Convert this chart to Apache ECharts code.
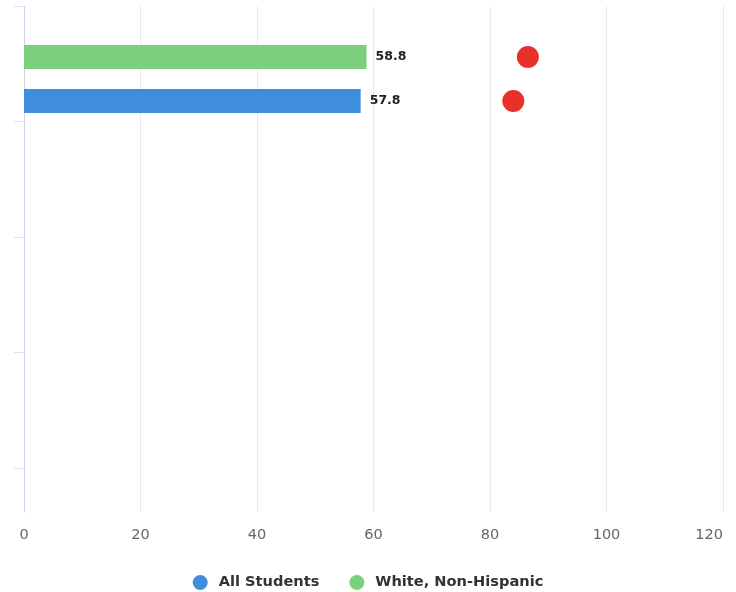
<!DOCTYPE html>
<html>
<head>
<meta charset="utf-8">
<script src="https://cdn.jsdelivr.net/npm/echarts@6/dist/echarts.min.js"></script>
<style>html,body{margin:0;padding:0;background:#fff}#c{width:736px;height:592px}</style>
</head>
<body>
<div id="c"></div>
<script>
var categories = ['Students'];
var seriesNames = ['All Students', 'White, Non-Hispanic'];
var allStudents = [57.8];
var whiteNonHispanic = [58.8];
var allStudentsTarget = [84.0];
var whiteTarget = [86.5];
var xTicks = [0, 20, 40, 60, 80, 100, 120];

var chart = echarts.init(document.getElementById('c'), null, {renderer: 'canvas'});
var font = 'DejaVu Sans';
var labelStyle = {show: true, position: 'right', distance: 9, fontFamily: font, fontWeight: 'bold', fontSize: 12.5, color: '#222'};
var option = {
  animation: false,
  backgroundColor: '#ffffff',
  legend: {
    data: seriesNames,
    top: 570,
    left: 'center',
    icon: 'circle',
    itemWidth: 15,
    itemHeight: 15,
    itemGap: 30,
    textStyle: {fontFamily: font, fontWeight: 'bold', fontSize: 14.6, color: '#333', padding: [0, 0, 0, 6]}
  },
  grid: [
    {left: 24, right: 13, top: 6, bottom: 80},
    {left: 24, right: 13, top: 6, height: 146}
  ],
  xAxis: [
    {type: 'value', gridIndex: 0, min: xTicks[0], max: xTicks[xTicks.length - 1], interval: 20,
     axisLine: {show: false}, axisTick: {show: false},
     splitLine: {lineStyle: {color: '#e9e9ee', width: 1}},
     axisLabel: {color: '#666', fontFamily: font, fontSize: 14.5, margin: 16, alignMaxLabel: 'right'}},
    {type: 'value', gridIndex: 1, min: xTicks[0], max: xTicks[xTicks.length - 1], show: false}
  ],
  yAxis: [
    {type: 'value', gridIndex: 0, min: 0, max: 4.38, interval: 1, inverse: true,
     axisLine: {show: true, lineStyle: {color: '#ccd6eb'}},
     axisTick: {show: true, length: 10, customValues: [0, 1, 2, 3, 4], lineStyle: {color: '#dde4f0'}},
     axisLabel: {show: false}, splitLine: {show: false}},
    {type: 'category', gridIndex: 1, data: categories, show: false}
  ],
  series: [
    {name: seriesNames[1], type: 'bar', xAxisIndex: 1, yAxisIndex: 1, data: whiteNonHispanic,
     barWidth: 24, barGap: '83%', itemStyle: {color: '#7ccf7c'}, label: labelStyle},
    {name: seriesNames[0], type: 'bar', xAxisIndex: 1, yAxisIndex: 1, data: allStudents,
     barWidth: 24, barGap: '83%', itemStyle: {color: '#3f8ede'}, label: labelStyle},
    {name: 'White target', type: 'pictorialBar', xAxisIndex: 1, yAxisIndex: 1, data: whiteTarget,
     barWidth: 24, barGap: '83%', symbol: 'circle', symbolSize: [22, 22], symbolPosition: 'end',
     symbolOffset: ['50%', 0], itemStyle: {color: '#e8312b'}, z: 5},
    {name: 'All Students target', type: 'pictorialBar', xAxisIndex: 1, yAxisIndex: 1, data: allStudentsTarget,
     barWidth: 24, barGap: '83%', symbol: 'circle', symbolSize: [22, 22], symbolPosition: 'end',
     symbolOffset: ['50%', 0], itemStyle: {color: '#e8312b'}, z: 5}
  ]
};
chart.setOption(option);
</script>
</body>
</html>
